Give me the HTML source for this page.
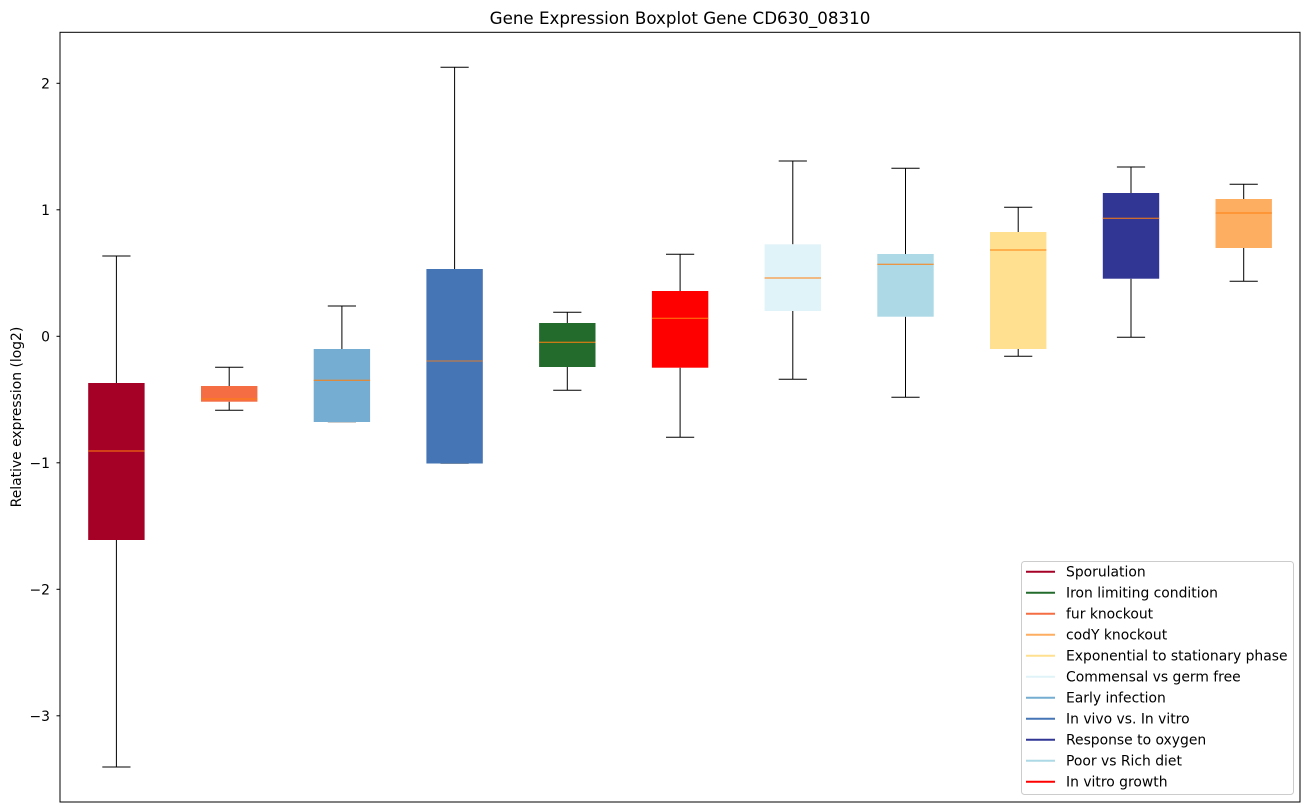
<!DOCTYPE html>
<html><head><meta charset="utf-8"><style>
html,body{margin:0;padding:0;background:#fff;}
svg{display:block;}
text{font-family:"DejaVu Sans","Liberation Sans",sans-serif;fill:#000;}
</style></head><body>
<svg width="1309" height="812" viewBox="0 0 1309 812" xmlns="http://www.w3.org/2000/svg">
<rect x="0" y="0" width="1309" height="812" fill="#fff"/>
<text x="680" y="24" font-size="16.7" text-anchor="middle">Gene Expression Boxplot Gene CD630_08310</text>
<text transform="translate(21,417) rotate(-90)" font-size="13.9" text-anchor="middle">Relative expression (log2)</text>
<g stroke="#000" stroke-width="1">
<line x1="56.5" y1="83.3" x2="60" y2="83.3"/>
<line x1="56.5" y1="209.8" x2="60" y2="209.8"/>
<line x1="56.5" y1="336.3" x2="60" y2="336.3"/>
<line x1="56.5" y1="462.8" x2="60" y2="462.8"/>
<line x1="56.5" y1="589.3" x2="60" y2="589.3"/>
<line x1="56.5" y1="715.8" x2="60" y2="715.8"/>
</g>
<g font-size="13.9" text-anchor="end">
<text x="50" y="88.5">2</text>
<text x="50" y="215">1</text>
<text x="50" y="341.5">0</text>
<text x="50" y="468">−1</text>
<text x="50" y="594.5">−2</text>
<text x="50" y="721">−3</text>
</g>
<g id="boxes" stroke-width="1">
<!-- helper: whiskers then box then median -->
<!-- 1 Sporulation -->
<g stroke="#000"><line x1="116.4" y1="256" x2="116.4" y2="383"/><line x1="102.3" y1="256" x2="130.5" y2="256"/><line x1="116.4" y1="540" x2="116.4" y2="767"/><line x1="102.3" y1="767" x2="130.5" y2="767"/></g>
<rect x="88.2" y="383" width="56.4" height="157" fill="#a50026"/>
<line x1="88.2" y1="451" x2="144.6" y2="451" stroke="#ff7f0e"/>
<!-- 2 fur -->
<g stroke="#000"><line x1="229.2" y1="367.3" x2="229.2" y2="386"/><line x1="215.1" y1="367.3" x2="243.3" y2="367.3"/><line x1="229.2" y1="401.7" x2="229.2" y2="410.3"/><line x1="215.1" y1="410.3" x2="243.3" y2="410.3"/></g>
<rect x="201" y="386" width="56.4" height="15.7" fill="#f46d43"/>
<line x1="201" y1="399" x2="257.4" y2="399" stroke="#ff7f0e"/>
<!-- 3 Early infection -->
<g stroke="#000"><line x1="341.9" y1="306" x2="341.9" y2="349"/><line x1="327.8" y1="306" x2="356" y2="306"/><line x1="327.8" y1="422" x2="356" y2="422" stroke="#999"/></g>
<rect x="313.7" y="349" width="56.4" height="73" fill="#74add1"/>
<line x1="313.7" y1="380.3" x2="370.1" y2="380.3" stroke="#ff7f0e"/>
<!-- 4 In vivo -->
<g stroke="#000"><line x1="454.6" y1="67.3" x2="454.6" y2="269"/><line x1="440.5" y1="67.3" x2="468.7" y2="67.3"/><line x1="440.5" y1="463.5" x2="468.7" y2="463.5" stroke="#999"/></g>
<rect x="426.4" y="269" width="56.4" height="194.5" fill="#4575b4"/>
<line x1="426.4" y1="361" x2="482.8" y2="361" stroke="#ff7f0e" stroke-opacity="0.8"/>
<!-- 5 Iron -->
<g stroke="#000"><line x1="567.3" y1="312.3" x2="567.3" y2="323"/><line x1="553.2" y1="312.3" x2="581.4" y2="312.3"/><line x1="567.3" y1="367" x2="567.3" y2="390.3"/><line x1="553.2" y1="390.3" x2="581.4" y2="390.3"/></g>
<rect x="539.1" y="323" width="56.4" height="44" fill="#226b2c"/>
<line x1="539.1" y1="342.3" x2="595.5" y2="342.3" stroke="#ff7f0e"/>
<!-- 6 In vitro growth -->
<g stroke="#000"><line x1="680.1" y1="254.3" x2="680.1" y2="291"/><line x1="666" y1="254.3" x2="694.2" y2="254.3"/><line x1="680.1" y1="367.7" x2="680.1" y2="437.3"/><line x1="666" y1="437.3" x2="694.2" y2="437.3"/></g>
<rect x="651.9" y="291" width="56.4" height="76.7" fill="#ff0000"/>
<line x1="651.9" y1="318.3" x2="708.3" y2="318.3" stroke="#ff7f0e"/>
<!-- 7 Commensal -->
<g stroke="#000"><line x1="792.8" y1="161" x2="792.8" y2="244.3"/><line x1="778.7" y1="161" x2="806.9" y2="161"/><line x1="792.8" y1="311" x2="792.8" y2="379.3"/><line x1="778.7" y1="379.3" x2="806.9" y2="379.3"/></g>
<rect x="764.6" y="244.3" width="56.4" height="66.7" fill="#e0f3f8"/>
<line x1="764.6" y1="278" x2="821" y2="278" stroke="#ff7f0e"/>
<!-- 8 Poor vs Rich -->
<g stroke="#000"><line x1="905.5" y1="168.3" x2="905.5" y2="254"/><line x1="891.4" y1="168.3" x2="919.6" y2="168.3"/><line x1="905.5" y1="316.7" x2="905.5" y2="397.3"/><line x1="891.4" y1="397.3" x2="919.6" y2="397.3"/></g>
<rect x="877.3" y="254" width="56.4" height="62.7" fill="#add8e6"/>
<line x1="877.3" y1="264.3" x2="933.7" y2="264.3" stroke="#ff7f0e"/>
<!-- 9 Exponential -->
<g stroke="#000"><line x1="1018.2" y1="207.3" x2="1018.2" y2="232"/><line x1="1004.1" y1="207.3" x2="1032.3" y2="207.3"/><line x1="1018.2" y1="349" x2="1018.2" y2="356.3"/><line x1="1004.1" y1="356.3" x2="1032.3" y2="356.3"/></g>
<rect x="990" y="232" width="56.4" height="117" fill="#fee090"/>
<line x1="990" y1="250" x2="1046.4" y2="250" stroke="#ff7f0e"/>
<!-- 10 Response to oxygen -->
<g stroke="#000"><line x1="1131" y1="167" x2="1131" y2="193"/><line x1="1116.9" y1="167" x2="1145.1" y2="167"/><line x1="1131" y1="278.7" x2="1131" y2="337.3"/><line x1="1116.9" y1="337.3" x2="1145.1" y2="337.3"/></g>
<rect x="1102.8" y="193" width="56.4" height="85.7" fill="#313695"/>
<line x1="1102.8" y1="218.3" x2="1159.2" y2="218.3" stroke="#ff7f0e"/>
<!-- 11 codY -->
<g stroke="#000"><line x1="1243.7" y1="184.3" x2="1243.7" y2="199"/><line x1="1229.6" y1="184.3" x2="1257.8" y2="184.3"/><line x1="1243.7" y1="248" x2="1243.7" y2="281.3"/><line x1="1229.6" y1="281.3" x2="1257.8" y2="281.3"/></g>
<rect x="1215.5" y="199" width="56.4" height="49" fill="#fdae61"/>
<line x1="1215.5" y1="213" x2="1271.9" y2="213" stroke="#ff7f0e"/>
</g>
<!-- legend -->
<rect x="1021.5" y="561.5" width="272" height="233" rx="3" ry="3" fill="#fff" fill-opacity="0.8" stroke="#ccc" stroke-width="1"/>
<g stroke-width="2">
<line x1="1026" y1="571.7" x2="1055" y2="571.7" stroke="#a50026"/>
<line x1="1026" y1="592.7" x2="1055" y2="592.7" stroke="#226b2c"/>
<line x1="1026" y1="613.7" x2="1055" y2="613.7" stroke="#f46d43"/>
<line x1="1026" y1="634.7" x2="1055" y2="634.7" stroke="#fdae61"/>
<line x1="1026" y1="655.7" x2="1055" y2="655.7" stroke="#fee090"/>
<line x1="1026" y1="676.7" x2="1055" y2="676.7" stroke="#e0f3f8"/>
<line x1="1026" y1="697.7" x2="1055" y2="697.7" stroke="#74add1"/>
<line x1="1026" y1="718.7" x2="1055" y2="718.7" stroke="#4575b4"/>
<line x1="1026" y1="739.7" x2="1055" y2="739.7" stroke="#313695"/>
<line x1="1026" y1="760.7" x2="1055" y2="760.7" stroke="#add8e6"/>
<line x1="1026" y1="781.7" x2="1055" y2="781.7" stroke="#ff0000"/>
</g>
<g font-size="13.9">
<text x="1066" y="576.5">Sporulation</text>
<text x="1066" y="597.5">Iron limiting condition</text>
<text x="1066" y="618.5">fur knockout</text>
<text x="1066" y="639.5">codY knockout</text>
<text x="1066" y="660.5">Exponential to stationary phase</text>
<text x="1066" y="681.5">Commensal vs germ free</text>
<text x="1066" y="702.5">Early infection</text>
<text x="1066" y="723.5">In vivo vs. In vitro</text>
<text x="1066" y="744.5">Response to oxygen</text>
<text x="1066" y="765.5">Poor vs Rich diet</text>
<text x="1066" y="786.5">In vitro growth</text>
</g>
<rect x="60" y="32.3" width="1240" height="769.7" fill="none" stroke="#000" stroke-width="1"/>
</svg>
</body></html>
